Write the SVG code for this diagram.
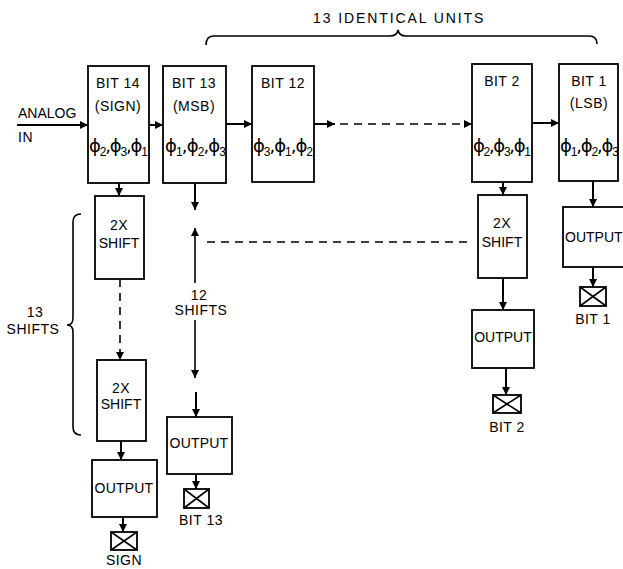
<svg xmlns="http://www.w3.org/2000/svg" width="623" height="569" viewBox="0 0 623 569">
<style>
.box{fill:#fff;stroke:#000;stroke-width:1.8}
.t{font-family:"Liberation Sans",Arial,sans-serif;font-size:14px;fill:#000;letter-spacing:0.5px}
.c{text-anchor:middle}
.phi{font-family:"DejaVu Sans","Liberation Sans",sans-serif;font-size:18px;fill:#000}
.sub{font-family:"Liberation Sans",Arial,sans-serif;font-size:12px}
.ln{stroke:#000;stroke-width:2;fill:none}
.dl{stroke:#000;stroke-width:1.6;fill:none;stroke-dasharray:8 6}
.br{stroke:#000;stroke-width:1.6;fill:none}
.sym{fill:#fff;stroke:#000;stroke-width:1.8}
</style>
<defs>
<marker id="ah" viewBox="0 0 10 10" refX="10" refY="5" markerWidth="9" markerHeight="8" orient="auto-start-reverse" markerUnits="userSpaceOnUse">
<path d="M0,0 L10,5 L0,10 z" fill="#000"/>
</marker>
</defs>
<rect width="623" height="569" fill="#fff"/>

<g id="connectors">
<line class="ln" x1="17" y1="125" x2="88" y2="125" marker-end="url(#ah)"/>
<line class="ln" x1="149" y1="125" x2="163" y2="125" marker-end="url(#ah)"/>
<line class="ln" x1="226" y1="124" x2="252" y2="124" marker-end="url(#ah)"/>
<line class="ln" x1="314" y1="124" x2="335" y2="124" marker-end="url(#ah)"/>
<line class="dl" x1="340" y1="124" x2="472" y2="124" marker-end="url(#ah)"/>
<line class="ln" x1="532" y1="123" x2="559" y2="123" marker-end="url(#ah)"/>
<line class="ln" x1="119" y1="183" x2="119" y2="196" marker-end="url(#ah)"/>
<line class="dl" x1="120" y1="279" x2="120" y2="360" marker-end="url(#ah)"/>
<line class="ln" x1="121" y1="441" x2="121" y2="460" marker-end="url(#ah)"/>
<line class="ln" x1="123" y1="517" x2="123" y2="532" marker-end="url(#ah)"/>
<line class="ln" x1="195" y1="183" x2="195" y2="210" marker-end="url(#ah)"/>
<line class="br" x1="195" y1="228" x2="195" y2="283" marker-start="url(#ah)"/>
<line class="br" x1="195" y1="320" x2="195" y2="378" marker-end="url(#ah)"/>
<line class="ln" x1="196" y1="392" x2="196" y2="417" marker-end="url(#ah)"/>
<line class="ln" x1="196" y1="474" x2="196" y2="489" marker-end="url(#ah)"/>
<line class="dl" x1="207" y1="242" x2="467" y2="242"/>
<line class="ln" x1="503" y1="182" x2="503" y2="195" marker-end="url(#ah)"/>
<line class="ln" x1="503" y1="278" x2="503" y2="310" marker-end="url(#ah)"/>
<line class="ln" x1="506" y1="368" x2="506" y2="395" marker-end="url(#ah)"/>
<line class="ln" x1="593" y1="181" x2="593" y2="207" marker-end="url(#ah)"/>
<line class="ln" x1="593" y1="267" x2="593" y2="287" marker-end="url(#ah)"/>
</g>

<g id="brace-top">
<path class="br" d="M206,45 Q206,36 214,36 L390,36 Q397,36 398,30 Q399,36 406,36 L589,36 Q597,36 597,44"/>
<text class="t" x="313" y="23" style="letter-spacing:1.9px">13 IDENTICAL UNITS</text>
</g>
<g id="brace-left">
<path class="br" d="M81,214 Q73,214 73,222 L73,318 Q73,325 67,325 Q73,325 73,332 L73,427 Q73,435 81,435"/>
<text class="t c" x="35" y="317">13</text>
<text class="t c" x="33" y="334">SHIFTS</text>
</g>

<g id="analog-in">
<text class="t" x="18" y="118" style="letter-spacing:0">ANALOG</text>
<text class="t" x="18" y="142">IN</text>
</g>

<g id="bit14">
<rect class="box" x="88" y="66" width="61" height="117"/>
<text class="t c" x="118" y="88">BIT 14</text>
<text class="t c" x="118" y="111">(SIGN)</text>
<text class="phi" x="89" y="152" textLength="59" lengthAdjust="spacing">ϕ<tspan class="sub" dy="4">2</tspan><tspan dy="-4">,ϕ</tspan><tspan class="sub" dy="4">3</tspan><tspan dy="-4">,ϕ</tspan><tspan class="sub" dy="4">1</tspan></text>
</g>
<g id="bit13">
<rect class="box" x="163" y="66" width="63" height="117"/>
<text class="t c" x="194" y="88">BIT 13</text>
<text class="t c" x="194" y="111">(MSB)</text>
<text class="phi" x="165" y="152" textLength="61" lengthAdjust="spacing">ϕ<tspan class="sub" dy="4">1</tspan><tspan dy="-4">,ϕ</tspan><tspan class="sub" dy="4">2</tspan><tspan dy="-4">,ϕ</tspan><tspan class="sub" dy="4">3</tspan></text>
</g>
<g id="bit12">
<rect class="box" x="252" y="66" width="62" height="116"/>
<text class="t c" x="283" y="88">BIT 12</text>
<text class="phi" x="253" y="152" textLength="60" lengthAdjust="spacing">ϕ<tspan class="sub" dy="4">3</tspan><tspan dy="-4">,ϕ</tspan><tspan class="sub" dy="4">1</tspan><tspan dy="-4">,ϕ</tspan><tspan class="sub" dy="4">2</tspan></text>
</g>
<g id="bit2">
<rect class="box" x="472" y="64" width="60" height="118"/>
<text class="t c" x="502" y="86">BIT 2</text>
<text class="phi" x="473" y="152" textLength="58" lengthAdjust="spacing">ϕ<tspan class="sub" dy="4">2</tspan><tspan dy="-4">,ϕ</tspan><tspan class="sub" dy="4">3</tspan><tspan dy="-4">,ϕ</tspan><tspan class="sub" dy="4">1</tspan></text>
</g>
<g id="bit1">
<rect class="box" x="559" y="64" width="59" height="117"/>
<text class="t c" x="589" y="86">BIT 1</text>
<text class="t c" x="589" y="108">(LSB)</text>
<text class="phi" x="560" y="152" textLength="59" lengthAdjust="spacing">ϕ<tspan class="sub" dy="4">1</tspan><tspan dy="-4">,ϕ</tspan><tspan class="sub" dy="4">2</tspan><tspan dy="-4">,ϕ</tspan><tspan class="sub" dy="4">3</tspan></text>
</g>

<g id="shift14a">
<rect class="box" x="95" y="196" width="49" height="83"/>
<text class="t c" x="119" y="230">2X</text>
<text class="t c" x="119" y="248" style="letter-spacing:0">SHIFT</text>
</g>
<g id="shift14b">
<rect class="box" x="97" y="360" width="49" height="81"/>
<text class="t c" x="121" y="393">2X</text>
<text class="t c" x="121" y="409" style="letter-spacing:0">SHIFT</text>
</g>
<g id="out14">
<rect class="box" x="92" y="460" width="65" height="57"/>
<text class="t c" x="124" y="493" style="letter-spacing:0.2px">OUTPUT</text>
</g>
<g id="sign">
<rect class="sym" x="111" y="532" width="26" height="18"/>
<path class="br" d="M111,532 L137,550 M137,532 L111,550"/>
<text class="t c" x="124" y="565">SIGN</text>
</g>

<g id="shifts12">
<text class="t c" x="199" y="300">12</text>
<text class="t c" x="201" y="315">SHIFTS</text>
</g>
<g id="out13">
<rect class="box" x="167" y="417" width="65" height="57"/>
<text class="t c" x="199" y="448" style="letter-spacing:0.2px">OUTPUT</text>
</g>
<g id="bit13-out">
<rect class="sym" x="184" y="489" width="25" height="19"/>
<path class="br" d="M184,489 L209,508 M209,489 L184,508"/>
<text class="t c" x="201" y="525">BIT 13</text>
</g>

<g id="shift2">
<rect class="box" x="478" y="195" width="49" height="83"/>
<text class="t c" x="502" y="228">2X</text>
<text class="t c" x="502" y="247" style="letter-spacing:0">SHIFT</text>
</g>
<g id="out2">
<rect class="box" x="472" y="310" width="62" height="58"/>
<text class="t c" x="503" y="342" style="letter-spacing:0">OUTPUT</text>
</g>
<g id="bit2-out">
<rect class="sym" x="493" y="395" width="28" height="18"/>
<path class="br" d="M493,395 L521,413 M521,395 L493,413"/>
<text class="t c" x="507" y="432">BIT 2</text>
</g>

<g id="out1">
<rect class="box" x="563" y="207" width="62" height="60"/>
<text class="t" x="565" y="242" style="letter-spacing:0">OUTPUT</text>
</g>
<g id="bit1-out">
<rect class="sym" x="580" y="287" width="26" height="19"/>
<path class="br" d="M580,287 L606,306 M606,287 L580,306"/>
<text class="t c" x="593" y="324">BIT 1</text>
</g>
</svg>
